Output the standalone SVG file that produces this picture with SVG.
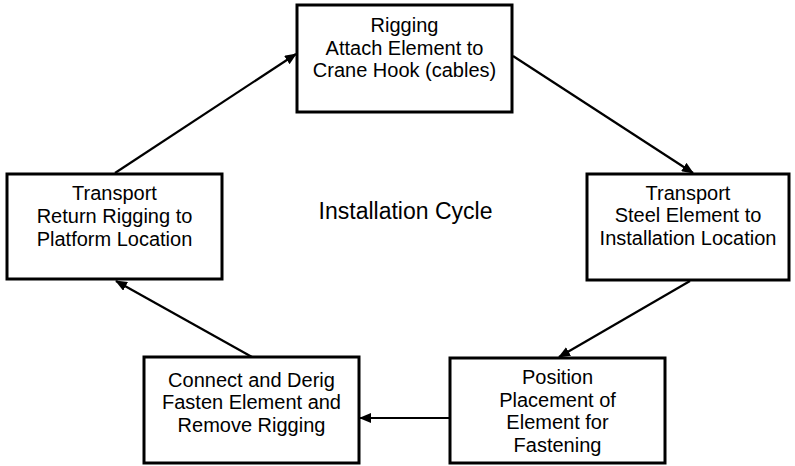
<svg xmlns="http://www.w3.org/2000/svg" width="795" height="466" viewBox="0 0 795 466">
<style>
.box{fill:#fff;stroke:#000;stroke-width:3}
.t{font-family:"Liberation Sans",Arial,sans-serif;font-size:20px;fill:#000;text-anchor:middle}
.c{stroke:#000;stroke-width:2.2;fill:none;marker-end:url(#ah)}
</style>
<defs>
<marker id="ah" markerWidth="12" markerHeight="10" refX="11" refY="5" orient="auto" markerUnits="userSpaceOnUse">
<path d="M0,0 L12,5 L0,10 Z" fill="#000"/>
</marker>
</defs>
<rect width="795" height="466" fill="#fff"/>
<g id="connectors">
<line class="c" x1="115" y1="173" x2="296" y2="54"/>
<line class="c" x1="513" y1="56" x2="693" y2="173"/>
<line class="c" x1="690" y1="281" x2="559" y2="357"/>
<line class="c" x1="450" y1="418" x2="360" y2="418"/>
<line class="c" x1="252" y1="357" x2="116" y2="281"/>
</g>
<g id="rigging">
<rect class="box" x="297" y="5" width="215" height="107"/>
<text class="t" x="404.5" y="32">Rigging</text>
<text class="t" x="404.5" y="55">Attach Element to</text>
<text class="t" x="404.5" y="77">Crane Hook (cables)</text>
</g>
<g id="transport-return">
<rect class="box" x="7" y="174" width="215" height="105"/>
<text class="t" x="114.5" y="200">Transport</text>
<text class="t" x="114.5" y="223">Return Rigging to</text>
<text class="t" x="114.5" y="246">Platform Location</text>
</g>
<g id="transport-steel">
<rect class="box" x="587" y="174" width="202" height="106"/>
<text class="t" x="688" y="200">Transport</text>
<text class="t" x="688" y="222">Steel Element to</text>
<text class="t" x="688" y="245">Installation Location</text>
</g>
<g id="connect">
<rect class="box" x="144" y="357" width="215" height="106"/>
<text class="t" x="251.5" y="387">Connect and Derig</text>
<text class="t" x="251.5" y="409">Fasten Element and</text>
<text class="t" x="251.5" y="432">Remove Rigging</text>
</g>
<g id="position">
<rect class="box" x="450" y="358" width="215" height="105"/>
<text class="t" x="557.5" y="384">Position</text>
<text class="t" x="557.5" y="406.5">Placement of</text>
<text class="t" x="557.5" y="429">Element for</text>
<text class="t" x="557.5" y="451.5">Fastening</text>
</g>
<g id="label">
<text class="t" x="405.5" y="219" style="font-size:23px">Installation Cycle</text>
</g>
</svg>
